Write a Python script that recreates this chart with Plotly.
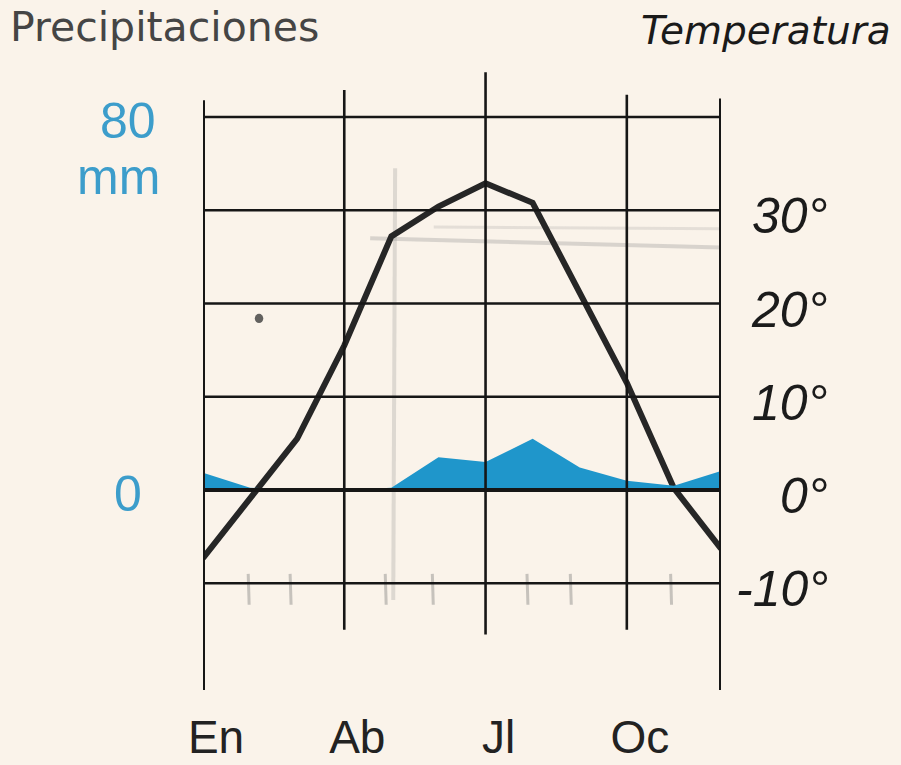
import plotly.graph_objects as go

# ---------------- data ----------------
months = ["En", "Fb", "Mr", "Ab", "My", "Jn", "Jl", "Ag", "Sp", "Oc", "Nv", "Dc"]
temperature_c = [-7.3, -0.8, 5.5, 15.5, 27.2, 30.4, 32.9, 30.8, 21.0, 11.5, 0.2, -6.3]
precip_mm = [3.7, 0.5, 0.0, 0.0, 0.5, 7.0, 6.0, 11.0, 4.8, 2.0, 0.9, 4.1]

month_tick_labels = ["En", "Ab", "Jl", "Oc"]
temp_tick_values = [30, 20, 10, 0, -10]
temp_tick_labels = ["30°", "20°", "10°", "0°", "-10°"]
precip_tick_values = [80, 0]
precip_tick_labels = ["80", "0"]
grid_temps = [40, 30, 20, 10, 0, -10]

# ---------------- layout constants ----------------
W, H = 901, 765
ML, MR, MT, MB = 203, 180, 72, 75
T_MIN, T_MAX = -21.45, 44.83          # temperature axis range
MM_PER_DEG = 2.0                      # P = 2T climograph convention
BG = "#FAF3EA"
INK = "#161616"
BLUE = "#1F96CB"
LABEL_BLUE = "#3C9DCB"

x_idx = list(range(len(months)))
month_pos = {m: i for i, m in enumerate(months)}
tick_idx = [month_pos[m] for m in month_tick_labels]

fig = go.Figure()

# precipitation area (secondary axis, mm)
fig.add_trace(go.Scatter(
    x=x_idx, y=precip_mm, yaxis="y2", mode="lines",
    line=dict(width=0, color=BLUE), fill="tozeroy", fillcolor=BLUE,
    hoverinfo="skip", showlegend=False))

# temperature curve
fig.add_trace(go.Scatter(
    x=x_idx, y=temperature_c, mode="lines",
    line=dict(width=6, color="#262626"), hoverinfo="skip", showlegend=False))

shapes = []
# pencil marks of the scanned sheet (faint)
pencil = "rgba(140,140,140,0.26)"
shapes.append(dict(type="line", xref="x", yref="y", x0=4.08, x1=4.04, y0=34.5, y1=-11.8,
                   line=dict(color=pencil, width=4), layer="below"))
shapes.append(dict(type="line", xref="x", yref="y", x0=3.55, x1=11.7, y0=27.0, y1=25.9,
                   line=dict(color="rgba(140,140,140,0.30)", width=4), layer="below"))
shapes.append(dict(type="line", xref="x", yref="y", x0=4.9, x1=11.2, y0=28.2, y1=28.0,
                   line=dict(color="rgba(150,150,150,0.22)", width=3), layer="below"))
for px in [0.96, 1.85, 3.87, 4.87, 6.88, 7.8, 9.93]:
    shapes.append(dict(type="line", xref="x", yref="y", x0=px, x1=px + 0.02, y0=-9.0, y1=-12.3,
                       line=dict(color="rgba(120,120,120,0.40)", width=3), layer="below"))
shapes.append(dict(type="circle", xref="x", yref="y", x0=1.1, x1=1.28, y0=17.9, y1=18.9,
                   fillcolor="rgba(60,60,60,0.8)", line=dict(width=0), layer="below"))

# horizontal grid
for t in grid_temps:
    shapes.append(dict(type="line", xref="x", yref="y", x0=0, x1=len(months) - 1, y0=t, y1=t,
                       line=dict(color=INK, width=4 if t == 0 else 2.6), layer="above"))
# vertical frame lines: (month, top, bottom, width)
frame = [("En", 41.8, T_MIN, 4), ("Ab", 42.9, -15.0, 2.6), ("Jl", 44.8, -15.5, 2.6),
         ("Oc", 42.4, -15.0, 2.6), ("Dc", 42.0, T_MIN, 4)]
for m, top, bot, w in frame:
    shapes.append(dict(type="line", xref="x", yref="y", x0=month_pos[m], x1=month_pos[m],
                       y0=bot, y1=top, line=dict(color=INK, width=w), layer="above"))

pw = W - ML - MR
ph = H - MT - MB
def px_to_paper_x(px):
    return (px - ML) / pw
def px_to_paper_y(py):
    return (H - MB - py) / ph

annotations = []
num_font = dict(family="Liberation Sans", size=50, color="#1b1b1b", style="italic")
for v, lab in zip(temp_tick_values, temp_tick_labels):
    annotations.append(dict(text=lab, xref="paper", yref="y", x=px_to_paper_x(830), y=v,
                            xanchor="right", yanchor="middle", yshift=-6, showarrow=False,
                            font=num_font))
blue_font = dict(family="Liberation Sans", size=50, color=LABEL_BLUE)
for v, lab in zip(precip_tick_values, precip_tick_labels):
    annotations.append(dict(text=lab, xref="paper", yref="y2", x=px_to_paper_x(128), y=v,
                            xanchor="center", yanchor="middle", yshift=-4, showarrow=False,
                            font=blue_font))
annotations.append(dict(text="mm", xref="paper", yref="y2", x=px_to_paper_x(118), y=80,
                        xanchor="center", yanchor="middle", yshift=-60, showarrow=False,
                        font=blue_font))
annotations.append(dict(text="Precipitaciones", xref="paper", yref="paper",
                        x=px_to_paper_x(8), y=px_to_paper_y(27), xanchor="left", yanchor="middle",
                        showarrow=False, font=dict(family="DejaVu Sans", size=41, color="#454545")))
annotations.append(dict(text="Temperatura", xref="paper", yref="paper",
                        x=px_to_paper_x(893), y=px_to_paper_y(30), xanchor="right", yanchor="middle",
                        showarrow=False,
                        font=dict(family="DejaVu Sans", size=39, color="#1a1a1a", style="italic")))

fig.update_layout(
    width=W, height=H, autosize=False,
    margin=dict(l=ML, r=MR, t=MT, b=MB, pad=0, autoexpand=False),
    paper_bgcolor=BG, plot_bgcolor=BG,
    showlegend=False,
    xaxis=dict(range=[0, len(months) - 1], tickvals=tick_idx, ticktext=month_tick_labels,
               ticks="", showgrid=False, zeroline=False, showline=False, automargin=False,
               tickfont=dict(family="Liberation Sans", size=46, color="#222222"),
               ticklabelshift=13, ticklabelstandoff=16, fixedrange=True),
    yaxis=dict(range=[T_MIN, T_MAX], showgrid=False, zeroline=False, showline=False,
               showticklabels=False, ticks="", fixedrange=True, automargin=False),
    yaxis2=dict(range=[T_MIN * MM_PER_DEG, T_MAX * MM_PER_DEG], overlaying="y", side="left",
                showgrid=False, zeroline=False, showline=False, showticklabels=False,
                ticks="", fixedrange=True, automargin=False),
    shapes=shapes,
    annotations=annotations,
)

page_js = ("document.body.style.margin='0';"
           "document.body.style.padding='0';"
           "document.body.style.overflow='hidden';"
           "document.body.style.background='" + BG + "';")

fig.write_html("out.html", config={"displayModeBar": False}, post_script=page_js)
